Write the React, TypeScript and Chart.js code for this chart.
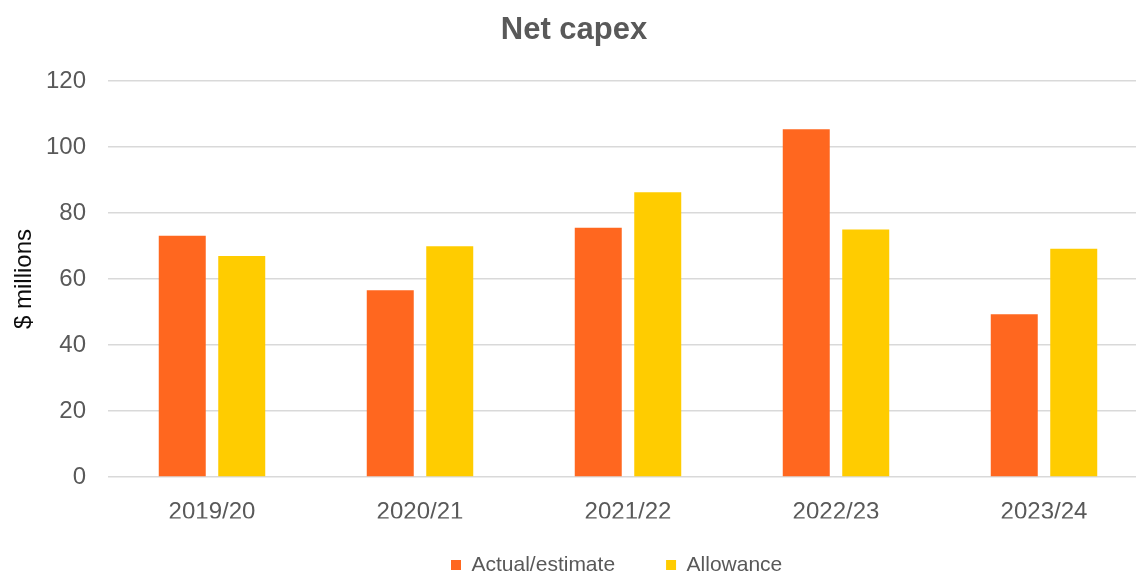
import React, { useEffect, useRef } from "react";
import { Chart, registerables } from "chart.js";

Chart.register(...registerables);

const categories = ["2019/20", "2020/21", "2021/22", "2022/23", "2023/24"];
const actualEstimate = [73.1, 56.6, 75.5, 105.4, 49.3];
const allowance = [67.0, 69.9, 86.3, 75.0, 69.2];
const seriesNames = ["Actual/estimate", "Allowance"];
const chartTitle = "Net capex";
const yAxisTitle = "$ millions";

const FONT = "'Liberation Sans', Arial, sans-serif";
const GREY = "#595959";

const LEGEND_X = 451;
const LEGEND_Y = 565;
const LEGEND_FONT = 21;
const LEGEND_PAD = 51;

const legendShift = {
  id: "legendShift",
  afterLayout(chart: any) {
    const lg = chart.legend;
    if (!lg || !lg.lineWidths) return;
    const pad = lg.options.labels.padding;
    const cur = (lg.left + pad + lg.right - lg.lineWidths[0]) / 2;
    const dx = LEGEND_X - cur;
    lg.left += dx;
    lg.right += dx;
    const dy = LEGEND_Y - pad - LEGEND_FONT / 2 - lg.top;
    lg.top += dy;
    lg.bottom = chart.height + 50;
    lg.height = lg.bottom - lg.top;
  },
};

export default function App() {
  const ref = useRef<HTMLCanvasElement | null>(null);

  useEffect(() => {
    if (!ref.current) return;
    const chart = new Chart(ref.current, {
      type: "bar",
      data: {
        labels: categories,
        datasets: [
          {
            label: seriesNames[0],
            data: actualEstimate,
            backgroundColor: "#FF671F",
            borderWidth: 0,
            categoryPercentage: 0.572,
            barPercentage: 0.79,
          },
          {
            label: seriesNames[1],
            data: allowance,
            backgroundColor: "#FFCC00",
            borderWidth: 0,
            categoryPercentage: 0.572,
            barPercentage: 0.79,
          },
        ],
      },
      options: {
        responsive: false,
        animation: false,
        devicePixelRatio: 1,
        layout: { padding: { left: 0, right: 2, top: 0, bottom: 0 } },
        plugins: {
          title: {
            display: true,
            text: chartTitle,
            color: GREY,
            font: { family: FONT, size: 31, weight: "bold" },
            padding: { top: 11.4, bottom: 32.4 },
          },
          legend: {
            display: true,
            position: "bottom",
            maxHeight: 54.6,
            labels: {
              color: GREY,
              font: { family: FONT, size: LEGEND_FONT },
              boxWidth: 10,
              boxHeight: 10,
              padding: LEGEND_PAD,
            },
          },
          tooltip: { enabled: false },
        },
        scales: {
          x: {
            grid: { display: false },
            border: { display: false },
            ticks: {
              color: GREY,
              font: { family: FONT, size: 24 },
              padding: 12.6,
              maxRotation: 0,
            },
            afterFit: (s: any) => {
              s.height = 41.4;
            },
          },
          y: {
            min: 0,
            max: 120,
            ticks: {
              stepSize: 20,
              color: GREY,
              font: { family: FONT, size: 24 },
              padding: 22,
            },
            grid: {
              color: "#D9D9D9",
              lineWidth: 1.5,
              drawTicks: false,
            },
            border: { display: false },
            title: {
              display: true,
              text: yAxisTitle,
              color: "#0D0D0D",
              font: { family: FONT, size: 24 },
              padding: { top: 9.5, bottom: 7.7 },
            },
            afterFit: (s: any) => {
              s.width = 108;
            },
          },
        },
      },
      plugins: [legendShift],
    });
    return () => chart.destroy();
  }, []);

  return (
    <div
      style={{
        position: "fixed",
        left: 0,
        top: 0,
        width: 1136,
        height: 573,
        overflow: "hidden",
        background: "#fff",
      }}
    >
      <canvas ref={ref} width={1150} height={573} style={{ display: "block" }} />
    </div>
  );
}
